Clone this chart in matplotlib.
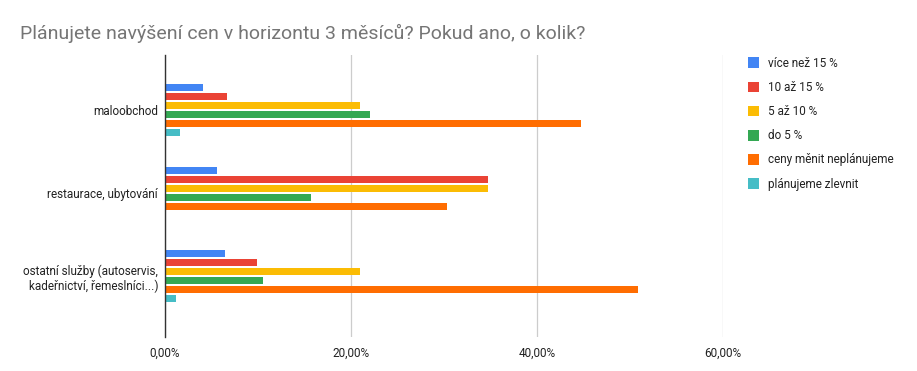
import numpy as np
import matplotlib
matplotlib.use("Agg")
import matplotlib.pyplot as plt
from matplotlib.ticker import FuncFormatter

plt.rcParams['font.family'] = ['Roboto', 'DejaVu Sans']

# --- data ---
categories = ["maloobchod", "restaurace, ubytování",
              "ostatní služby (autoservis,\nkadeřnictví, řemeslníci...)"]
series = ["více než 15 %", "10 až 15 %", "5 až 10 %", "do 5 %",
          "ceny měnit neplánujeme", "plánujeme zlevnit"]
vice_nez_15 = [4.1, 5.6, 6.4]
od_10_do_15 = [6.7, 34.7, 9.9]
od_5_do_10 = [21.0, 34.7, 21.0]
do_5 = [22.0, 15.7, 10.5]
nemenit = [44.7, 30.3, 50.9]
zlevnit = [1.6, 0.0, 1.2]
values = [vice_nez_15, od_10_do_15, od_5_do_10, do_5, nemenit, zlevnit]
colors = ["#4285F4", "#EA4335", "#FBBC04", "#34A853", "#FF6D01", "#46BDC6"]

fig = plt.figure(figsize=(9.17, 3.71), dpi=100)
ax = fig.add_axes([165 / 917, 1 - 337 / 371, (723 - 165) / 917, (337 - 55) / 371])

y = np.arange(len(categories))
step = 0.108
for i, (name, vals, c) in enumerate(zip(series, values, colors)):
    ax.barh(y + (i - 2.5) * step, np.array(vals) / 100, height=0.084,
            color=c, label=name, zorder=3)

ax.set_xlim(0, 0.6)
ax.set_ylim(2.73, -0.66)
ax.set_xticks([0, 0.2, 0.4, 0.6])
ax.xaxis.set_major_formatter(FuncFormatter(lambda v, p: f"{v * 100:.2f}%".replace(".", ",")))
ax.set_yticks(y)
ax.set_yticklabels(categories, ha="right", fontsize=8.5, color="#222222")
ax.grid(axis="x", color="#cccccc", linewidth=0.9, zorder=0)
for s in ["top", "right", "bottom"]:
    ax.spines[s].set_visible(False)
ax.spines["left"].set_color("#333333")
ax.spines["left"].set_linewidth(1.0)
ax.spines["left"].set_zorder(4)
ax.tick_params(axis="y", length=0, pad=5)
ax.tick_params(axis="x", length=0, pad=7, labelsize=8.5, labelcolor="#222222")

fig.text(20 / 917, 1 - 33 / 371, "Plánujete navýšení cen v horizontu 3 měsíců? Pokud ano, o kolik?",
         fontsize=14, color="#757575", va="center", ha="left")

handles, labels = ax.get_legend_handles_labels()
fig.legend(handles, labels, loc="upper left", bbox_to_anchor=(737 / 917, 1 - 46 / 371),
           frameon=False, fontsize=8.5, handlelength=1.0, handleheight=1.0,
           handletextpad=0.7, labelspacing=0.95, labelcolor="#222222")

fig.savefig("out.png", dpi=100)
